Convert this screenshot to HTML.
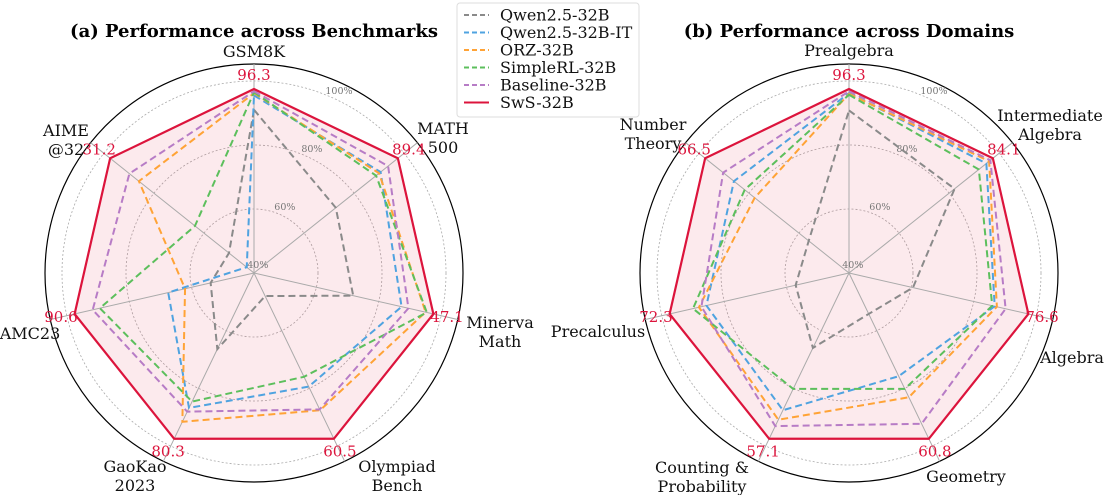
<!DOCTYPE html>
<html><head><meta charset="utf-8"><style>
html,body{margin:0;padding:0;background:#fff;}
svg{display:block;font-family:"DejaVu Serif","Liberation Serif",serif;}
</style></head><body>
<svg id="chart" width="1106" height="495" viewBox="0 0 1106 495" xmlns="http://www.w3.org/2000/svg">
<text x="254" y="37" text-anchor="middle" font-size="18" font-weight="bold">(a) Performance across Benchmarks</text>
<text x="849" y="37" text-anchor="middle" font-size="18" font-weight="bold">(b) Performance across Domains</text>
<g id="left"></g>
<g id="right"></g>
<g>
<rect x="457" y="3" width="182" height="114" rx="3" fill="#fff" fill-opacity="0.9" stroke="#ddd"/>
<g id="legendItems"></g>
</g>
</svg>
<script>
const NS='http://www.w3.org/2000/svg';
const models=['Qwen2.5-32B','Qwen2.5-32B-IT','ORZ-32B','SimpleRL-32B','Baseline-32B','SwS-32B'];
const colors=['#8a8a8a','#4fa3e0','#ffa336','#5cbf5c','#b77cc6','#dc143c'];
// Left chart: benchmarks
const benchCats=[['GSM8K'],['MATH','500'],['Minerva','Math'],['Olympiad','Bench'],['GaoKao','2023'],['AMC23'],['AIME','@32']];
const benchTop=['96.3','89.4','47.1','60.5','80.3','90.6','31.2'];
const benchQwen=[91,72.7,71.8,48,66.4,53.9,50];
const benchQwenIT=[95.5,90.6,87.3,79.4,86.8,67.5,42.9];
const benchORZ=[96.2,90,95,87.6,91.6,62.1,86];
const benchSimpleRL=[96.5,88.8,95.4,76,84.6,89.4,63.6];
const benchBaseline=[96.8,93.6,89.5,87.3,88.1,91.7,89.8];
const benchSwS=[97.5,97.5,97.5,97.5,97.5,97.5,97.5];
// Right chart: domains
const domCats=[['Prealgebra'],['Intermediate','Algebra'],['Algebra'],['Geometry'],['Counting &','Probability'],['Precalculus'],['Number','Theory']];
const domTop=['96.3','84.1','76.6','60.8','57.1','72.3','66.5'];
const domQwen=[90.8,82.2,60.5,54.2,66,57.1,56.1];
const domQwenIT=[96.2,94.9,86.7,75.8,87.6,85.7,86];
const domORZ=[96,96,87.4,83.1,90.9,88.1,77.7];
const domSimpleRL=[95.7,91.9,85.9,80.2,80.2,90,81.7];
const domBaseline=[96.8,96.5,90.2,92.3,93.1,87.3,90.3];
const domSwS=[97.5,97.5,97.5,97.5,97.5,97.5,97.5];
const benchLabelPos=[[254,57],[443,134],[500,328],[397,472],[135,472],[30,339],[66,136]];
const domLabelPos=[[849,56],[1050,121],[1072,363],[966,482],[702,473],[598,337],[653,130]];

const RMIN=40, PXPER=3.2;
function rScale(v){return (v-RMIN)*PXPER;}
function ang(i,n){return i*2*Math.PI/n;}
function pt(cx,cy,i,n,v){const a=ang(i,n),r=rScale(v);return [cx+r*Math.sin(a),cy-r*Math.cos(a)];}
function mk(tag,attrs,parent){const e=document.createElementNS(NS,tag);for(const k in attrs)e.setAttribute(k,attrs[k]);parent.appendChild(e);return e;}

function drawRadar(g,cx,cy,cats,series,top,labelPos,prefix){
  const n=cats.length;
  const outer=mk('circle',{cx:cx,cy:cy,r:209,fill:'none',stroke:'#000','stroke-width':1.2},g);
  
  
  [60,80,100].forEach(v=>{
    const c=mk('circle',{cx:cx,cy:cy,r:rScale(v),fill:'none',stroke:'#aaa','stroke-width':0.8,'stroke-dasharray':'2,2'},g);
    
    
  });
  const sws=series[5];
  const fillPts=sws.map((v,i)=>pt(cx,cy,i,n,v).join(',')).join(' ');
  const fp=mk('polygon',{points:fillPts,fill:'#dc143c','fill-opacity':0.09,stroke:'none'},g);
  
  
  for(let i=0;i<n;i++){
    const a=ang(i,n);
    const s=mk('line',{x1:cx,y1:cy,x2:cx+209*Math.sin(a),y2:cy-209*Math.cos(a),stroke:'#aaa','stroke-width':1},g);
    
    
  }
  [40,60,80,100].forEach(v=>{
    const r=rScale(v)+9,a=25*Math.PI/180;
    const t=mk('text',{x:cx+r*Math.sin(a),y:cy-r*Math.cos(a)+3,'text-anchor':'middle','font-size':9.5,fill:'#777'},g);
    t.textContent=v+'%';
    
    
  });
  series.forEach((vals,k)=>{
    const pts=vals.map((v,i)=>pt(cx,cy,i,n,v).join(',')).join(' ');
    const attrs={points:pts,fill:'none',stroke:colors[k],'stroke-width':k==5?2.2:2,'stroke-linejoin':'miter'};
    if(k<5)attrs['stroke-dasharray']='7,4';
    const p=mk('polygon',attrs,g);
    
    
  });
  for(let i=0;i<n;i++){
    const a=ang(i,n),r=198;
    const t=mk('text',{x:cx+r*Math.sin(a),y:cy-r*Math.cos(a)+5,'text-anchor':'middle','font-size':15,fill:'#dc143c'},g);
    t.textContent=top[i];
    
    
  }
  cats.forEach((lines,i)=>{
    const [x,y]=labelPos[i];
    const t=mk('text',{x:x,y:y,'text-anchor':'middle','font-size':16,fill:'#111'},g);
    
    
    lines.forEach((ln,j)=>{const ts=mk('tspan',{x:x,dy:j==0?0:19},t);ts.textContent=ln;});
  });
}
drawRadar(document.getElementById('left'),254,273,benchCats,[benchQwen,benchQwenIT,benchORZ,benchSimpleRL,benchBaseline,benchSwS],benchTop,benchLabelPos,'bench');
drawRadar(document.getElementById('right'),849,273,domCats,[domQwen,domQwenIT,domORZ,domSimpleRL,domBaseline,domSwS],domTop,domLabelPos,'domain');

const lg=document.getElementById('legendItems');
models.forEach((m,k)=>{
  const y=15+k*17.5;
  const l=mk('line',{x1:464,y1:y,x2:489,y2:y,stroke:colors[k],'stroke-width':2},lg);
  if(k<5)l.setAttribute('stroke-dasharray','5,3');
  
  
  const t=mk('text',{x:500,y:y+5.5,'font-size':16,fill:'#111'},lg);
  t.textContent=m;
  
  
});
</script>
</body></html>
